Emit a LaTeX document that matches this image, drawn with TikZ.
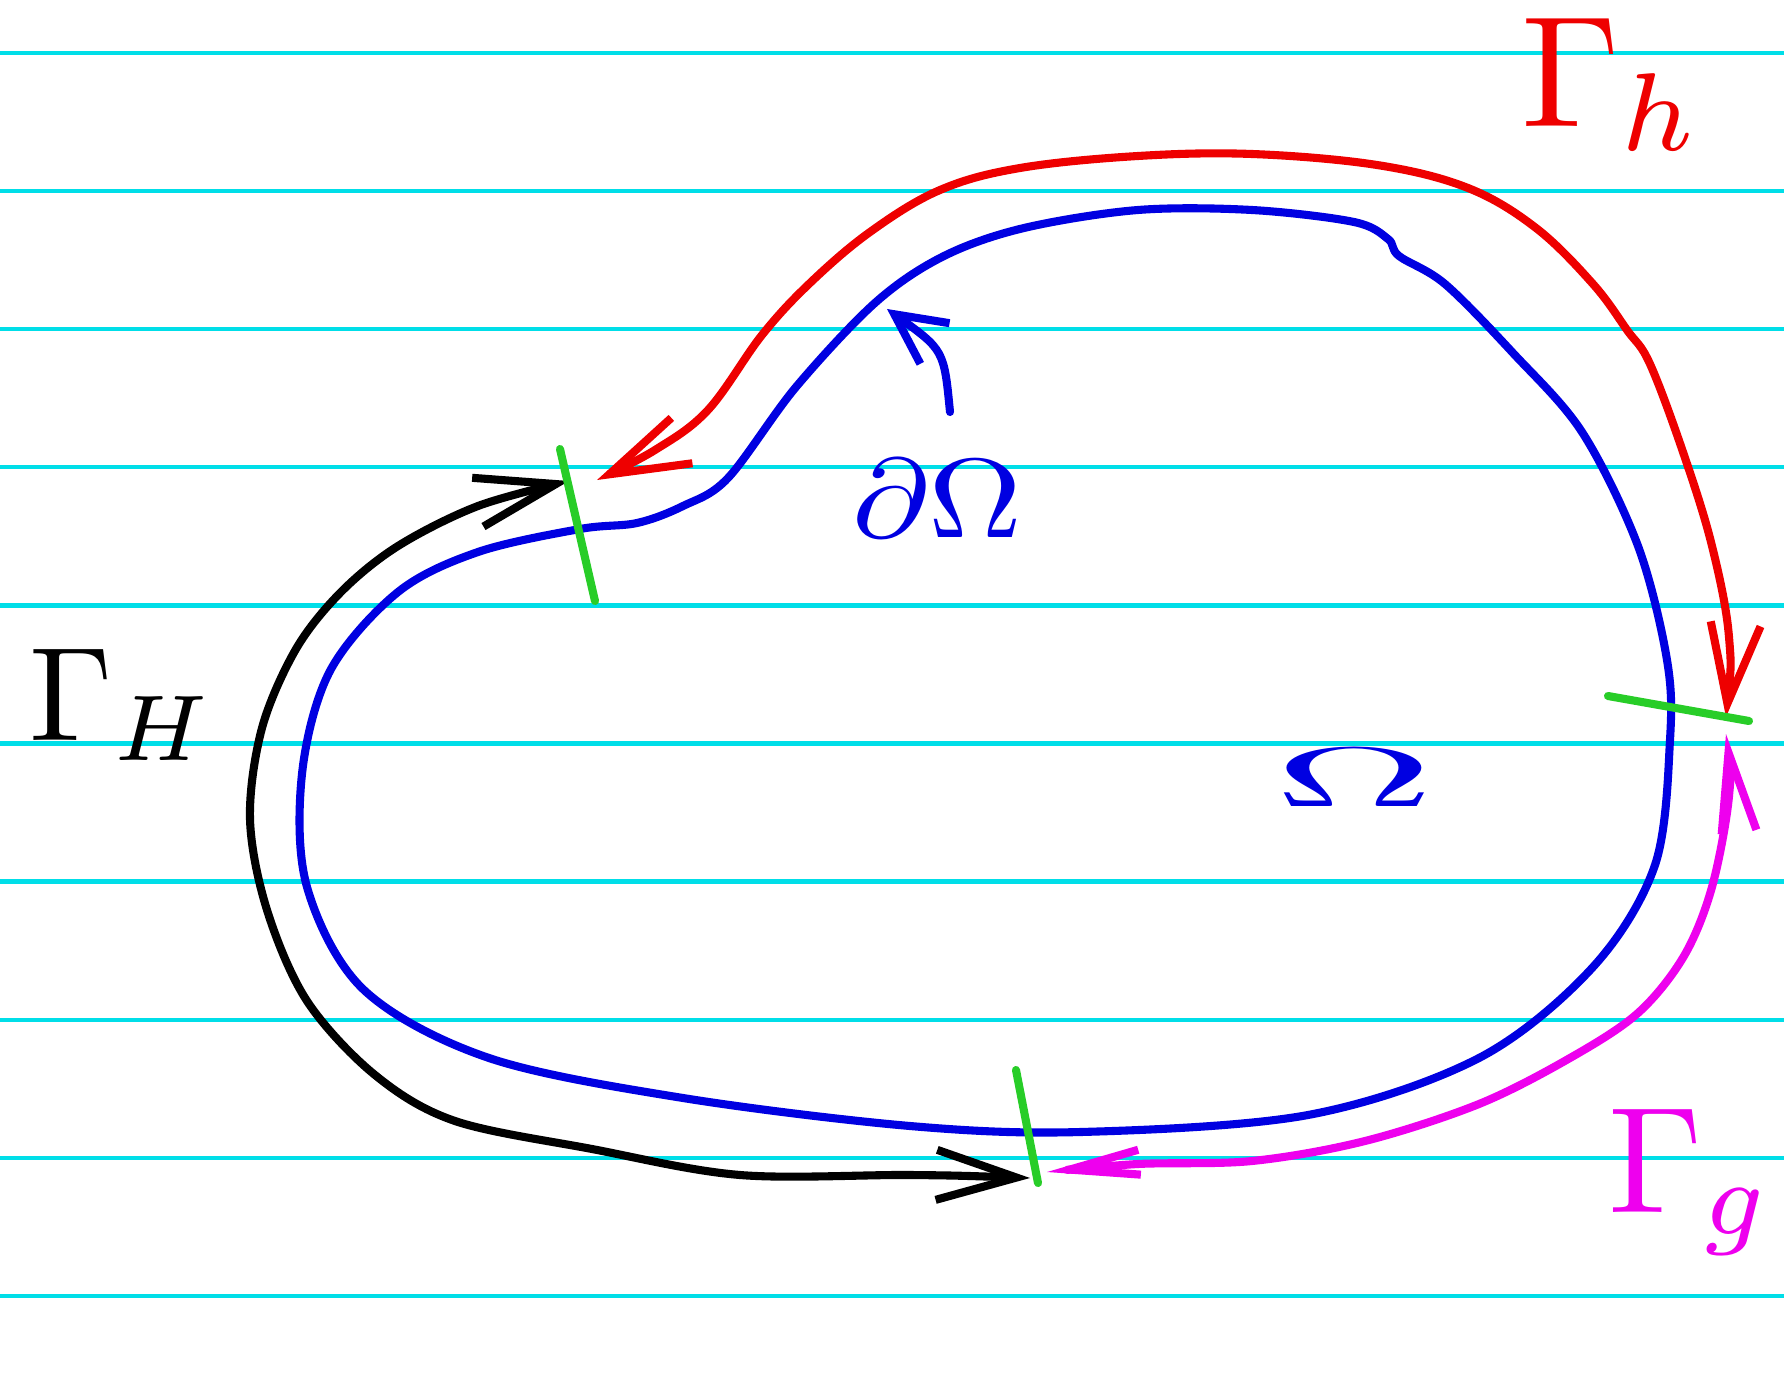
\documentclass[tikz,border=0pt]{standalone}
\usepackage{amsmath,amssymb}
\usepackage{xcolor}
\usepackage{tikz}
\usetikzlibrary{arrows.meta}

\definecolor{penred}{RGB}{238,0,0}
\definecolor{penblue}{RGB}{0,0,225}
\definecolor{pengreen}{RGB}{40,205,40}
\definecolor{penmagenta}{RGB}{238,0,238}
\definecolor{rulecyan}{RGB}{0,222,232}

\begin{document}
\begin{tikzpicture}[x=0.01cm, y=-0.01cm, >={Straight Barb[length=8mm, width=5mm, line width=2.3pt]}]
        \tikzstyle{ruled} = [draw=rulecyan, line width=1.2pt]
        \tikzstyle{pen} = [line width=2.3pt, line cap=round, line join=round]
        \tikzstyle{tick} = [pen, draw=pengreen]
        \tikzstyle{label} = [anchor=base west, inner sep=0pt]

        \useasboundingbox[fill=white] (0,0) rectangle (1784,1379);
        \foreach \k in {0,...,9}
            \draw[ruled] (0,{53+138.1*\k}) -- (1784,{53+138.1*\k});

        \coordinate (tickA1) at (560,449);
        \coordinate (tickA2) at (595,601);
        \coordinate (tickB1) at (1608,696);
        \coordinate (tickB2) at (1749,721);
        \coordinate (tickC1) at (1016,1070);
        \coordinate (tickC2) at (1038,1183);

        \draw[pen, draw=penblue] plot[smooth cycle, tension=0.55] coordinates {
            (580,529) (637,523) (683,506) (728,478) (796,387) (876,302) (944,256)
            (1024,228) (1138,210) (1252,210) (1354,222) (1388,239) (1399,256)
            (1445,284) (1513,353) (1582,432) (1638,546) (1667,660) (1670,740)
            (1655,865) (1593,967) (1479,1058) (1308,1115) (1081,1132) (910,1126)
            (683,1098) (489,1058) (364,990) (307,887) (302,774) (330,671)
            (398,592) (478,552)};

        \draw[pen, <->, draw=penred] plot[smooth, tension=0.6] coordinates {
            (1726,717) (1729,637) (1712,546) (1684,455) (1650,364) (1627,330)
            (1593,284) (1536,228) (1468,188) (1377,165) (1252,154) (1138,156)
            (1020,168) (940,190) (870,232) (810,283) (762,335) (708,410)
            (655,450) (597,480)};

        \draw[pen, <->, draw=black] plot[smooth, tension=0.55] coordinates {
            (1030,1178) (910,1175) (740,1175) (592,1149) (455,1121) (375,1075)
            (307,1001) (267,910) (250,819) (262,728) (296,649) (341,592)
            (398,546) (478,506) (569,481)};

        \draw[pen, {Straight Barb[length=8mm, width=3.5mm, line width=2.3pt]}-{Straight Barb[length=7mm, width=2.5mm, line width=2.3pt]}, draw=penmagenta]
            plot[smooth, tension=0.55] coordinates {
            (1726,734) (1729,796) (1712,887) (1684,956) (1638,1013) (1570,1058)
            (1479,1104) (1365,1141) (1252,1161) (1138,1164) (1047,1172)};

        \draw[tick] (tickA1) -- (tickA2);
        \draw[tick] (tickB1) -- (tickB2);
        \draw[tick] (tickC1) -- (tickC2);

        \node (gammah) [label, scale=4.5, text=penred] at (1518,127) {$\Gamma_h$};
        \node (gammaH) [label, scale=3.8, text=black] at (27,740) {$\Gamma_H$};
        \node (gammag) [label, scale=4.3, text=penmagenta] at (1605,1212) {$\Gamma_g$};
        \node (bdry) [label, xscale=3.7, yscale=3.2, text=penblue] at (850,537) {$\partial\Omega$};
        \node (omega) [label, xscale=6.3, yscale=2.4, text=penblue] at (1270,806) {$\Omega$};

        \coordinate (bdrytip) at (887,309);
        \draw[pen, draw=penblue, -{Straight Barb[length=5mm, width=5mm, line width=2.3pt]}]
            (950,412) .. controls (944,350) .. (bdrytip);
    \end{tikzpicture}
\end{document}
